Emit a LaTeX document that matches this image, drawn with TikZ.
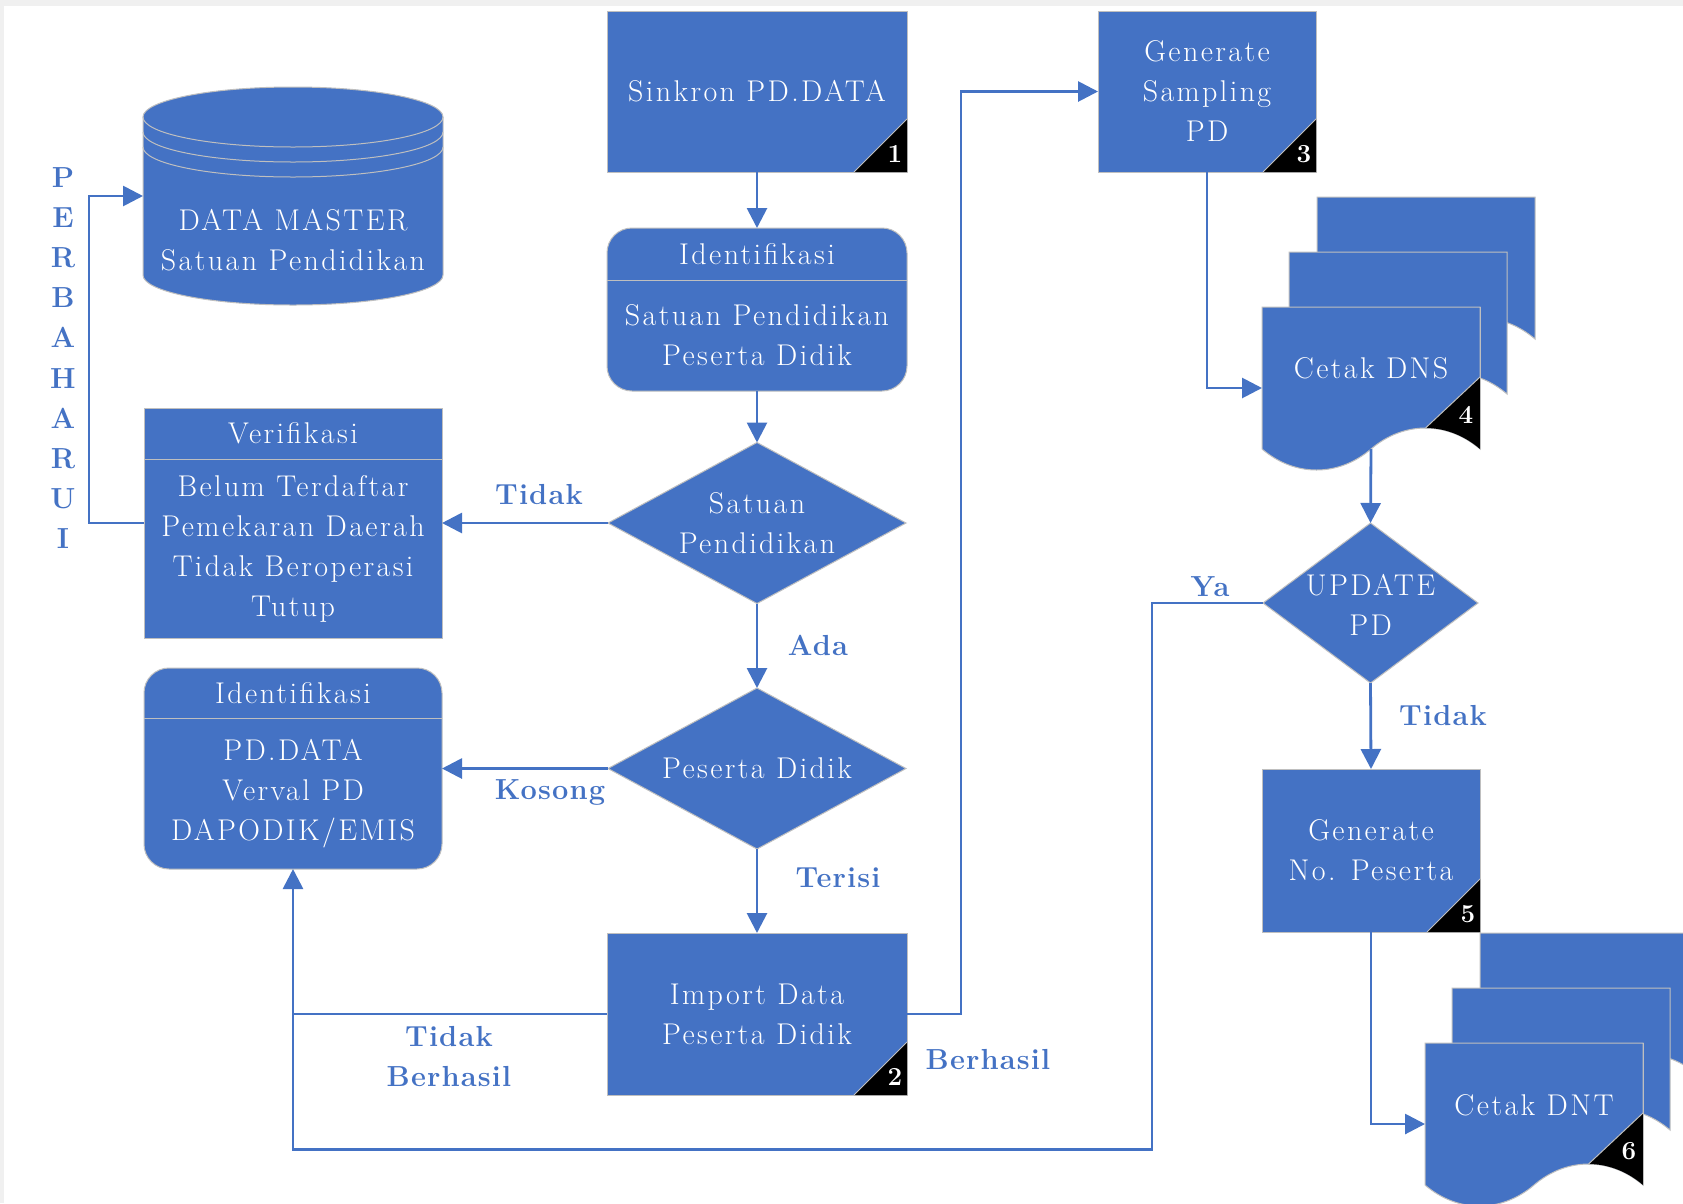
\documentclass[tikz,border=0pt]{standalone}
\usepackage{fontspec}
\newfontfamily\spacedfam{Latin Modern Roman}[LetterSpace=8]
\newfontfamily\lblfam{Latin Modern Roman}[LetterSpace=4]
\usetikzlibrary{arrows.meta,shapes.geometric}
\definecolor{obl}{HTML}{4472C4}
\definecolor{ogray}{HTML}{BFBFBF}
\definecolor{bgg}{HTML}{F0F0F0}
\newcommand\mainf{\spacedfam\fontsize{30}{40}\selectfont}
\newcommand\lblf{\lblfam\fontsize{29}{40}\selectfont\bfseries}
\newcommand\lettf{\lblfam\fontsize{29}{40.2}\selectfont\bfseries}
\newcommand\numf{\fontsize{26}{28}\selectfont\bfseries}
% document shape: x y w h
\newcommand\docshape[4]{%
 \filldraw[shp] (#1,#2) -- ({#1+#3},#2) -- ({#1+#3},{#2+#4})
 .. controls ({#1+0.85*#3},{#2+#4-28}) and ({#1+0.65*#3},{#2+#4-28}) .. ({#1+0.5*#3},{#2+#4})
 .. controls ({#1+0.35*#3},{#2+#4+28}) and ({#1+0.15*#3},{#2+#4+28}) .. (#1,{#2+#4}) -- cycle;}
\newcommand\doccorner[5]{%
 \begin{scope}
 \clip (#1,#2) -- ({#1+#3},#2) -- ({#1+#3},{#2+#4})
 .. controls ({#1+0.85*#3},{#2+#4-28}) and ({#1+0.65*#3},{#2+#4-28}) .. ({#1+0.5*#3},{#2+#4})
 .. controls ({#1+0.35*#3},{#2+#4+28}) and ({#1+0.15*#3},{#2+#4+28}) .. (#1,{#2+#4}) -- cycle;
 \fill[black] ({#1+0.75*#3},{#2+#4-21}) -- ({#1+#3},{#2+#4-72}) -- ({#1+#3+5},{#2+#4-72}) -- ({#1+#3+5},{#2+#4+40}) -- ({#1+0.75*#3},{#2+#4+40}) -- cycle;
 \end{scope}
 \draw[ogray,line width=1pt] ({#1+0.75*#3},{#2+#4-21}) -- ({#1+#3},{#2+#4-72});
 \draw[ogray,line width=1pt] ({#1+#3},#2) -- ({#1+#3},{#2+#4});
 \node[num] at ({#1+#3-14},{#2+#4-34}) {#5};}
\newcommand\rectcorner[3]{% right bottom num
 \fill[black] ({#1-53},#2) -- (#1,{#2-53}) -- (#1,#2) -- cycle;
 \draw[ogray,line width=1pt] ({#1-53},#2) -- (#1,{#2-53});
 \node[num] at ({#1-12},{#2-18}) {#3};}
\begin{document}
\begin{tikzpicture}[x=1pt,y=-1pt,
  shp/.style={draw=ogray,line width=1pt,fill=obl,inner sep=0pt,outer sep=0pt},
  txt/.style={text=white,align=center,font=\mainf,inner sep=0pt},
  lbl/.style={text=obl,align=center,font=\lblf,inner sep=0pt},
  num/.style={text=white,font=\numf,inner sep=0pt},
  arr/.style={draw=obl,line width=2.8pt,-{Triangle[length=20pt,width=20pt]}},
  ln/.style={draw=obl,line width=2.8pt}]
\useasboundingbox (0,0) rectangle (1683,1203);
\fill[bgg] (0,0) rectangle (1683,1203);
\fill[white] (4,6) rectangle (1683,1203);

% ---- centre column
\node[shp,txt,minimum width=300pt,minimum height=161pt] (sink) at (757,91.5) {Sinkron PD.DATA};
\rectcorner{907}{172}{1}

\node[shp,rounded corners=25pt,minimum width=300pt,minimum height=163pt] (idc) at (757,309.5) {};
\draw[ogray,line width=1pt] (607,280) -- (907,280);
\node[txt] (idch) at (757,254) {Identifikasi};
\node[txt] (idcb) at (757,335.5) {Satuan Pendidikan\\Peserta Didik};

\node[shp,diamond,minimum width=298pt,minimum height=161pt] (d1) at (757,523) {};
\node[txt] (d1t) at (757,523) {Satuan\\Pendidikan};

\node[shp,diamond,minimum width=298pt,minimum height=161pt] (d2) at (757,768.5) {};
\node[txt] (d2t) at (757,768.5) {Peserta Didik};

\node[shp,txt,minimum width=300pt,minimum height=162pt] (imp) at (757,1014) {Import Data\\Peserta Didik};
\rectcorner{907}{1095}{2}

% ---- left column
\fill[obl] (143,117) rectangle (443,275);
\fill[obl] (293,275) ellipse [x radius=150, y radius=30];
\fill[obl] (293,117) ellipse [x radius=150, y radius=30];
\draw[ogray,line width=1pt] (293,117) ellipse [x radius=150, y radius=30];
\draw[ogray,line width=1pt] (143,132) arc [start angle=180, end angle=0, x radius=150, y radius=30];
\draw[ogray,line width=1pt] (143,147) arc [start angle=180, end angle=0, x radius=150, y radius=30];
\draw[ogray,line width=1pt] (143,117) -- (143,275) arc [start angle=180, end angle=0, x radius=150, y radius=30] -- (443,117);
\node[minimum width=300pt,minimum height=218pt,inner sep=0pt,outer sep=0pt] (dm) at (293,196) {};
\node[txt] (dmt) at (293,240) {DATA MASTER\\Satuan Pendidikan};

\node[shp,minimum width=298pt,minimum height=230pt] (ver) at (293,523) {};
\draw[ogray,line width=1pt] (144,459) -- (442,459);
\node[txt] (verh) at (293,433.5) {Verifikasi};
\node[txt] (verb) at (293,549) {Belum Terdaftar\\Pemekaran Daerah\\Tidak Beroperasi\\Tutup};

\node[shp,rounded corners=25pt,minimum width=298pt,minimum height=201pt] (idl) at (293,768.5) {};
\draw[ogray,line width=1pt] (144,718) -- (442,718);
\node[txt] (idlh) at (293,693) {Identifikasi};
\node[txt] (idlb) at (293,794) {PD.DATA\\Verval PD\\DAPODIK/EMIS};

\node[lbl,font=\lettf] (perb) at (63,358) {P\\E\\R\\B\\A\\H\\A\\R\\U\\I};

% ---- right column
\node[shp,txt,minimum width=218pt,minimum height=161pt] (gs) at (1207,91.5) {Generate\\Sampling\\PD};
\rectcorner{1316}{172}{3}

\docshape{1317}{197}{218}{142}
\docshape{1289}{252}{218}{142}
\docshape{1262}{307}{218}{142}
\doccorner{1262}{307}{218}{142}{4}
\node[minimum width=218pt,minimum height=162pt,inner sep=0pt,outer sep=0pt] (dns) at (1371,388) {};
\node[txt] (dnst) at (1371,368) {Cetak DNS};

\node[shp,diamond,minimum width=215pt,minimum height=160pt] (upd) at (1370.5,603) {};
\node[txt] (updt) at (1370.5,605) {UPDATE\\PD};

\node[shp,txt,minimum width=218pt,minimum height=163pt] (gno) at (1371,850.5) {Generate\\No. Peserta};
\rectcorner{1480}{932}{5}

\docshape{1480}{933}{218}{142}
\docshape{1452}{988}{218}{142}
\docshape{1425}{1043}{218}{142}
\doccorner{1425}{1043}{218}{142}{6}
\node[minimum width=218pt,minimum height=162pt,inner sep=0pt,outer sep=0pt] (dnt) at (1534,1124) {};
\node[txt] (dntt) at (1534,1105) {Cetak DNT};

% ---- connectors
\draw[arr] (sink.south) -- (idc.north);
\draw[arr] (idc.south) -- (d1.north);
\draw[arr] (d1.west) -- (ver.east);
\draw[arr] (d1.south) -- (d2.north);
\draw[arr] (d2.west) -- (idl.east);
\draw[arr] (d2.south) -- (imp.north);
\draw[ln] (imp.west) -- (imp.west -| idl.south);
\coordinate (yb) at (1152,1149.5);
\draw[arr] (upd.west) -| (yb) -| (idl.south);
\coordinate (bx) at (961,500);
\draw[arr] (imp.east) -| (bx) |- (gs.west);
\draw[arr] (gs.south) |- (dns.west);
\draw[arr] ([yshift=20pt]dns.south) -- (upd.north);
\draw[arr] (upd.south) -- (gno.north);
\draw[arr] (gno.south) |- (dnt.west);
\coordinate (px) at (89,300);
\draw[arr] (ver.west) -| (px) |- (dm.west);

% ---- labels
\node[lbl] (l1) at (539,495) {Tidak};
\node[lbl] (l2) at (818,645) {Ada};
\node[lbl] (l3) at (550,792) {Kosong};
\node[lbl] (l4) at (838,878) {Terisi};
\node[lbl] (l5) at (449,1057) {Tidak\\Berhasil};
\node[lbl] (l6) at (988,1060) {Berhasil};
\node[lbl] (l7) at (1210,587) {Ya};
\node[lbl] (l8) at (1443,716) {Tidak};
\end{tikzpicture}
\end{document}
